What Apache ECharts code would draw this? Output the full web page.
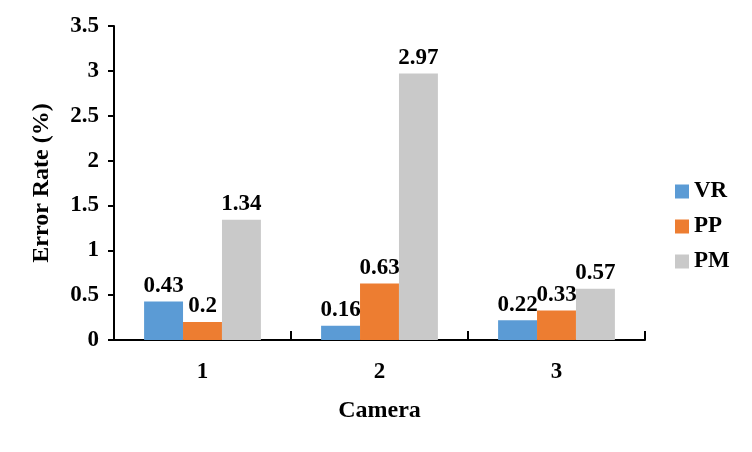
<!DOCTYPE html>
<html><head><meta charset="utf-8">
<script src="https://cdn.jsdelivr.net/npm/echarts@6/dist/echarts.min.js"></script>
<style>html,body{margin:0;padding:0;background:#fff}#c{width:752px;height:452px}</style>
</head><body><div id="c"></div>
<script>
const categories = ['1', '2', '3'];
const vr = [0.43, 0.16, 0.22];
const pp = [0.2, 0.63, 0.33];
const pm = [1.34, 2.97, 0.57];
const seriesNames = ['VR', 'PP', 'PM'];
const colors = ['#5B9BD5', '#ED7D31', '#C9C9C9'];
const font = '"Liberation Serif", "Times New Roman", serif';
const chart = echarts.init(document.getElementById('c'));
const lbl = {show: true, position: 'top', distance: 4, fontFamily: font, fontWeight: 'bold', fontSize: 23, color: '#000'};
chart.setOption({
  animation: false,
  textStyle: {fontFamily: font},
  grid: {left: 114, right: 107, top: 26, bottom: 112},
  legend: {
    orient: 'vertical', left: 670, top: 175, itemGap: 12, itemWidth: 14, itemHeight: 14,
    icon: 'rect',
    textStyle: {fontFamily: font, fontWeight: 'bold', fontSize: 23, color: '#000'},
    data: seriesNames
  },
  xAxis: {
    type: 'category', data: categories,
    name: 'Camera', nameLocation: 'middle', nameGap: 59,
    nameTextStyle: {fontFamily: font, fontWeight: 'bold', fontSize: 24, color: '#000'},
    axisLine: {lineStyle: {color: '#000', width: 2}},
    axisTick: {show: true, inside: true, length: 9, lineStyle: {color: '#000', width: 2}},
    axisLabel: {fontFamily: font, fontWeight: 'bold', fontSize: 23, color: '#000', margin: 21}
  },
  yAxis: {
    type: 'value', min: 0, max: 3.5, interval: 0.5,
    name: 'Error Rate (%)', nameLocation: 'middle', nameGap: 60, nameRotate: 90,
    nameTextStyle: {fontFamily: font, fontWeight: 'bold', fontSize: 24, color: '#000'},
    axisLine: {show: true, lineStyle: {color: '#000', width: 2}},
    axisTick: {show: true, length: 6, lineStyle: {color: '#000', width: 2}},
    splitLine: {show: false},
    axisLabel: {fontFamily: font, fontWeight: 'bold', fontSize: 23, color: '#000', margin: 15}
  },
  series: [
    {name: seriesNames[0], type: 'bar', data: vr, itemStyle: {color: colors[0]}, barGap: '0%', barCategoryGap: '34%', label: lbl},
    {name: seriesNames[1], type: 'bar', data: pp, itemStyle: {color: colors[1]}, barGap: '0%', barCategoryGap: '34%', label: lbl},
    {name: seriesNames[2], type: 'bar', data: pm, itemStyle: {color: colors[2]}, barGap: '0%', barCategoryGap: '34%', label: lbl}
  ]
});
</script></body></html>
